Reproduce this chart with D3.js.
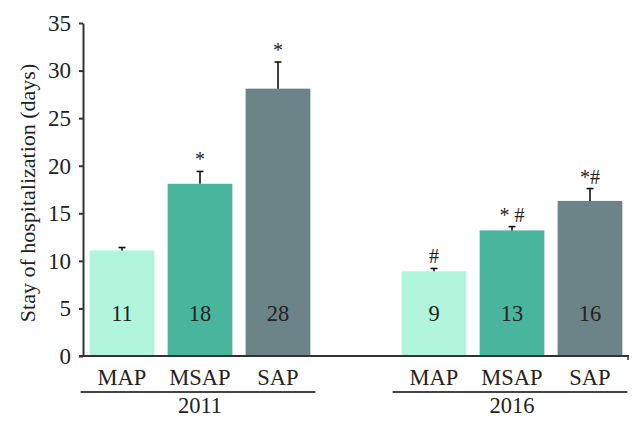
<!DOCTYPE html>
<html>
<head>
<meta charset="utf-8">
<script src="https://cdn.jsdelivr.net/npm/d3@7"></script>
<style>
  body { margin: 0; background: #fff; }
  text { font-family: "Liberation Serif", "DejaVu Serif", serif; fill: #222; }
</style>
</head>
<body>
<svg width="643" height="426"></svg>
<script>
    var years = ["2011", "2016"];
    var categories = ["MAP", "MSAP", "SAP"];
    var means2011 = [11.1, 18.1, 28.1];
    var errs2011 = [0.3, 1.3, 2.8];
    var means2016 = [8.9, 13.2, 16.3];
    var errs2016 = [0.3, 0.4, 1.3];
    var labels2011 = ["11", "18", "28"];
    var labels2016 = ["9", "13", "16"];
    var marks2011 = ["", "*", "*"];
    var marks2016 = ["#", "* #", "*#"];
    var yTicks = [0, 5, 10, 15, 20, 25, 30, 35];

    var colors = ["#b0f5dc", "#4ab59d", "#6c8387"];

    var svg = d3.select("svg");

    // slots: 3 bars, one empty gap, 3 bars
    var rows = [];
    var slots = [];
    [[means2011, errs2011, labels2011, marks2011], [means2016, errs2016, labels2016, marks2016]].forEach(function (g, gi) {
        categories.forEach(function (c, ci) {
            var key = years[gi] + "-" + c;
            slots.push(key);
            rows.push({ key: key, year: years[gi], cat: c, ci: ci, v: g[0][ci], e: g[1][ci], lab: g[2][ci], mark: g[3][ci] });
        });
        if (gi == 0) slots.push("gap");
    });

    var x = d3.scaleBand().domain(slots).range([83, 629]).paddingInner(0.17).paddingOuter(0.085);
    var y = d3.scaleLinear().domain([0, 35]).range([356, 23]);
    var bw = x.bandwidth();

    // bars
    svg.selectAll("rect.bar")
        .data(rows)
        .enter()
        .append("rect")
            .attr("class", "bar")
            .attr("x", function (d) { return x(d.key); })
            .attr("y", function (d) { return y(d.v); })
            .attr("width", bw)
            .attr("height", function (d) { return y(0) - y(d.v); })
            .attr("fill", function (d) { return colors[d.ci]; });

    // error bars
    var eb = svg.selectAll("g.err").data(rows).enter().append("g").attr("class", "err");
    eb.append("line")
        .attr("x1", function (d) { return x(d.key) + bw / 2; })
        .attr("x2", function (d) { return x(d.key) + bw / 2; })
        .attr("y1", function (d) { return y(d.v); })
        .attr("y2", function (d) { return y(d.v + d.e); })
        .attr("stroke", "#111").attr("stroke-width", 1.6);
    eb.append("line")
        .attr("x1", function (d) { return x(d.key) + bw / 2 - 3.5; })
        .attr("x2", function (d) { return x(d.key) + bw / 2 + 3.5; })
        .attr("y1", function (d) { return y(d.v + d.e); })
        .attr("y2", function (d) { return y(d.v + d.e); })
        .attr("stroke", "#111").attr("stroke-width", 1.6);

    // significance marks
    svg.selectAll("text.mark")
        .data(rows)
        .enter()
        .append("text")
            .attr("class", "mark")
            .attr("x", function (d) { return x(d.key) + bw / 2; })
            .attr("y", function (d) { return y(d.v + d.e) - 5; })
            .attr("text-anchor", "middle")
            .style("font-size", "20px")
            .text(function (d) { return d.mark; });

    // values inside bars
    svg.selectAll("text.val")
        .data(rows)
        .enter()
        .append("text")
            .attr("class", "val")
            .attr("x", function (d) { return x(d.key) + bw / 2; })
            .attr("y", y(3.7))
            .attr("text-anchor", "middle")
            .style("font-size", "22.5px")
            .text(function (d) { return d.lab; });

    // y axis
    var yAxis = d3.axisLeft(y).tickValues(yTicks).tickSize(4).tickSizeOuter(0).tickPadding(8);
    var ya = svg.append("g").attr("transform", "translate(83,0)").call(yAxis);
    ya.selectAll("path, line").attr("stroke", "#333").attr("stroke-width", 2);
    ya.selectAll("text").style("font-size", "23px").attr("fill", "#222")
        .style("font-family", "Liberation Serif");

    // x axis line
    svg.append("line")
        .attr("x1", 79).attr("x2", 629).attr("y1", y(0)).attr("y2", y(0))
        .attr("stroke", "#333").attr("stroke-width", 2);
    svg.append("line")
        .attr("x1", 628).attr("x2", 628).attr("y1", y(0)).attr("y2", y(0) + 4)
        .attr("stroke", "#333").attr("stroke-width", 1.5);

    // category labels
    svg.selectAll("text.cat")
        .data(rows)
        .enter()
        .append("text")
            .attr("class", "cat")
            .attr("x", function (d) { return x(d.key) + bw / 2; })
            .attr("y", 385)
            .attr("text-anchor", "middle")
            .style("font-size", "22.5px")
            .text(function (d) { return d.cat; });

    // group underlines and year labels
    years.forEach(function (yr) {
        var first = x(yr + "-" + categories[0]);
        var last = x(yr + "-" + categories[categories.length - 1]) + bw;
        svg.append("line")
            .attr("x1", first - 9).attr("x2", last + 5)
            .attr("y1", 392).attr("y2", 392)
            .attr("stroke", "#444").attr("stroke-width", 2);
        svg.append("text")
            .attr("x", (first + last) / 2)
            .attr("y", 413)
            .attr("text-anchor", "middle")
            .style("font-size", "22.5px")
            .text(yr);
    });

    // y label
    svg.append("text")
        .attr("transform", "translate(35,193) rotate(-90)")
        .attr("text-anchor", "middle")
        .style("font-size", "22px")
        .text("Stay of hospitalization (days)");
</script>
</body>
</html>
